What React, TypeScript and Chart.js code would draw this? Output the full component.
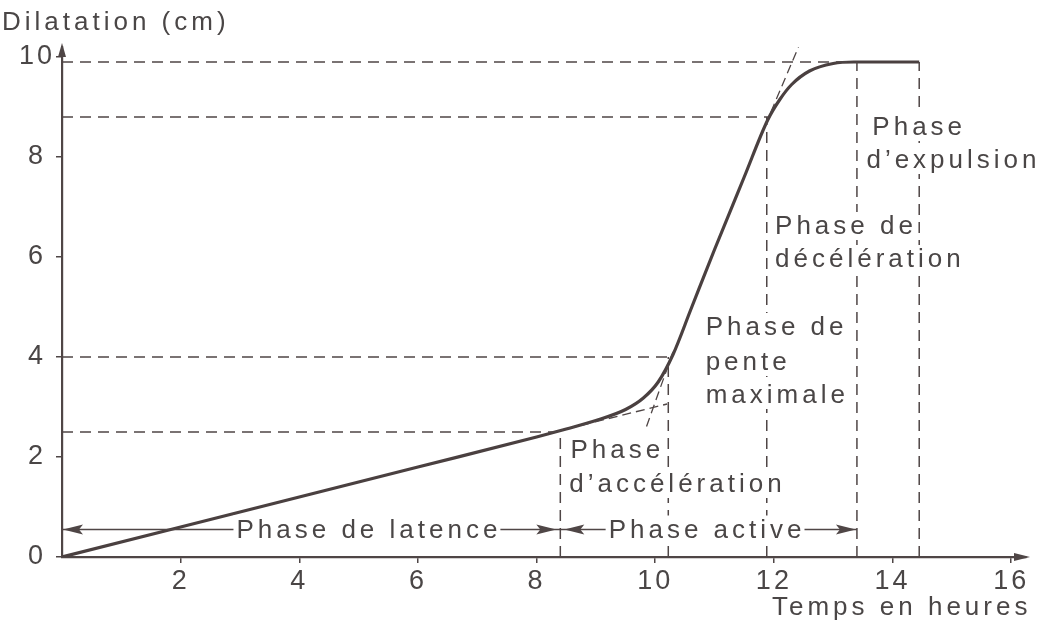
import React, { useEffect, useRef } from "react";
import { Chart, registerables } from "chart.js";
Chart.register(...registerables);

// Courbe de dilatation (heures, cm)
const curveHours = [0, 2, 4, 6, 8, 8.5, 9, 9.5, 9.8, 10.05, 10.3, 10.6, 11.0, 11.5, 11.9, 12.1, 12.3, 12.6, 13.0, 13.35, 14.45];
const curveDilatation = [0, 0.6, 1.2, 1.8, 2.4, 2.56, 2.73, 2.95, 3.18, 3.5, 4.05, 4.95, 6.15, 7.6, 8.75, 9.15, 9.45, 9.72, 9.87, 9.9, 9.9];

// Lignes de repère horizontales (niveau, fin en heures)
const guideLevels = [9.9, 8.8, 4.0, 2.5];
const guideLevelEnds = [13.35, 11.9, 10.25, 8.3];

// Lignes de repère verticales (heure, sommet en cm)
const guideHours = [8.4, 10.22, 11.88, 13.4, 14.45];
const guideTops = [2.5, 4.0, 8.8, 9.9, 9.9];

// Tangentes en pointillés [x1, y1, x2, y2]
const tangentLatence = [8.3, 2.5, 10.2, 3.06];
const tangentPenteBas = [10.3, 4.1, 9.85, 2.6];
const tangentPenteHaut = [11.95, 8.9, 12.45, 10.3];

// Flèches des phases
const arrowLevel = 0.55;
const latenceSpan = [0, 8.4];
const activeSpan = [8.4, 13.4];

const xTicks = [2, 4, 6, 8, 10, 12, 14, 16];
const yTicks = [0, 2, 4, 6, 8, 10];

const noteTexts = ["Phase", "d\u2019expulsion", "Phase de", "décélération", "Phase de", "pente", "maximale", "Phase", "d\u2019accélération"];
const noteHours = [13.66, 13.56, 12.02, 12.02, 10.85, 10.85, 10.85, 8.57, 8.55];
const noteLevels = [8.6, 7.94, 6.62, 5.96, 4.6, 3.9, 3.24, 2.14, 1.46];

const phaseTexts = ["Phase de latence", "Phase active"];
const phaseCenters = [5.14, 10.84];

const FONT = "'Liberation Sans', Arial, sans-serif";
const TEXT_COLOR = "#4a4646";
const LINE_COLOR = "#4f4646";

const seg = (a: number[]) => [{ x: a[0], y: a[1] }, { x: a[2], y: a[3] }];

const spacing = {
  id: "spacing",
  beforeDraw(chart: any) {
    (chart.ctx as any).letterSpacing = "3px";
  },
  afterDraw(chart: any) {
    (chart.ctx as any).letterSpacing = "0px";
  },
};

const overlay = {
  id: "overlay",
  afterDatasetsDraw(chart: any) {
    const { ctx } = chart;
    const xs = chart.scales.x;
    const ys = chart.scales.y;
    ctx.save();
    ctx.font = `26px ${FONT}`;
    (ctx as any).letterSpacing = "4px";
    ctx.textBaseline = "middle";

    const drawText = (t: string, px: number, py: number, align: "left" | "center") => {
      const w = ctx.measureText(t).width - 4;
      const left = align === "left" ? px : px - w / 2;
      ctx.fillStyle = "#ffffff";
      ctx.fillRect(left - 3, py - 14, w + 6, 28);
      ctx.fillStyle = TEXT_COLOR;
      ctx.textAlign = "left";
      ctx.fillText(t, left, py + 1);
    };

    noteTexts.forEach((t, i) => {
      drawText(t, xs.getPixelForValue(noteHours[i]), ys.getPixelForValue(noteLevels[i]), "left");
    });
    phaseTexts.forEach((t, i) => {
      drawText(t, xs.getPixelForValue(phaseCenters[i]), ys.getPixelForValue(arrowLevel), "center");
    });

    // arrowheads
    const head = (px: number, py: number, dir: number, len = 20, half = 5) => {
      ctx.beginPath();
      ctx.moveTo(px, py);
      ctx.lineTo(px - dir * len, py - half);
      ctx.lineTo(px - dir * len * 0.8, py);
      ctx.lineTo(px - dir * len, py + half);
      ctx.closePath();
      ctx.fillStyle = LINE_COLOR;
      ctx.fill();
    };
    const ay = ys.getPixelForValue(arrowLevel);
    head(xs.getPixelForValue(latenceSpan[0]) + 1, ay, -1);
    head(xs.getPixelForValue(latenceSpan[1]) - 4, ay, 1);
    head(xs.getPixelForValue(activeSpan[0]) + 4, ay, -1);
    head(xs.getPixelForValue(activeSpan[1]) - 1, ay, 1);

    // axis arrows
    const x0 = xs.left;
    const yTop = ys.top;
    ctx.beginPath();
    ctx.moveTo(x0, yTop - 4);
    ctx.lineTo(x0 - 4, yTop + 10);
    ctx.lineTo(x0 + 4, yTop + 10);
    ctx.closePath();
    ctx.fill();
    const xr = xs.right;
    const yb = ys.bottom;
    ctx.beginPath();
    ctx.moveTo(xr + 4, yb);
    ctx.lineTo(xr - 12, yb - 4);
    ctx.lineTo(xr - 12, yb + 4);
    ctx.closePath();
    ctx.fill();

    // titles
    ctx.fillStyle = TEXT_COLOR;
    ctx.textAlign = "left";
    ctx.fillText("Dilatation (cm)", 2, 23);
    ctx.fillText("Temps en heures", 772, 608);
    ctx.restore();
  },
};

export default function App() {
  const ref = useRef<HTMLCanvasElement>(null);
  useEffect(() => {
    if (!ref.current) return;
    const dashed = { borderColor: LINE_COLOR, borderWidth: 1.5, borderDash: [11, 7], pointRadius: 0, fill: false, tension: 0 };
    const datasets: any[] = [];
    guideLevels.forEach((lv, i) => {
      datasets.push({ ...dashed, data: [{ x: 0, y: lv }, { x: guideLevelEnds[i], y: lv }] });
    });
    guideHours.forEach((h, i) => {
      datasets.push({ ...dashed, data: [{ x: h, y: 0 }, { x: h, y: guideTops[i] }] });
    });
    [tangentLatence, tangentPenteBas, tangentPenteHaut].forEach((t) => {
      datasets.push({ ...dashed, borderWidth: 1.3, borderDash: [9, 5], data: seg(t) });
    });
    datasets.push({ borderColor: LINE_COLOR, borderWidth: 1.5, pointRadius: 0, data: [{ x: latenceSpan[0], y: arrowLevel }, { x: latenceSpan[1], y: arrowLevel }] });
    datasets.push({ borderColor: LINE_COLOR, borderWidth: 1.5, pointRadius: 0, data: [{ x: activeSpan[0], y: arrowLevel }, { x: activeSpan[1], y: arrowLevel }] });
    datasets.push({
      borderColor: "#4a4040",
      borderWidth: 3.2,
      pointRadius: 0,
      cubicInterpolationMode: "monotone",
      data: curveHours.map((x, i) => ({ x, y: curveDilatation[i] })),
    });

    const tickFont = { family: FONT, size: 27 };
    const chart = new Chart(ref.current, {
      type: "line",
      data: { datasets },
      plugins: [spacing, overlay],
      options: {
        animation: false,
        responsive: false,
        maintainAspectRatio: false,
        layout: { padding: { left: 0, right: 31, top: 47, bottom: 0 } },
        plugins: { legend: { display: false }, tooltip: { enabled: false } },
        scales: {
          x: {
            type: "linear",
            min: 0,
            max: 16.25,
            afterBuildTicks: (s: any) => { s.ticks = xTicks.map((v) => ({ value: v })); },
            afterFit: (s: any) => { s.height = 78; },
            grid: { drawOnChartArea: false, drawTicks: true, tickLength: 6, color: LINE_COLOR, lineWidth: 1.5 },
            border: { display: true, color: LINE_COLOR, width: 2.2 },
            ticks: { color: TEXT_COLOR, font: tickFont, padding: 2, maxRotation: 0, autoSkip: false },
          },
          y: {
            type: "linear",
            min: 0,
            max: 10.2,
            afterBuildTicks: (s: any) => { s.ticks = yTicks.map((v) => ({ value: v })); },
            afterFit: (s: any) => { s.width = 62; },
            grid: { drawOnChartArea: false, drawTicks: true, tickLength: 6, color: LINE_COLOR, lineWidth: 1.5 },
            border: { display: true, color: LINE_COLOR, width: 2.2 },
            ticks: { color: TEXT_COLOR, font: tickFont, padding: 4, crossAlign: "center", autoSkip: false },
          },
        },
      } as any,
    });
    return () => chart.destroy();
  }, []);
  return (
    <div style={{ position: "absolute", left: 0, top: 0, width: 1057, height: 635, background: "#fff" }}>
      <canvas ref={ref} width={1057} height={635} />
    </div>
  );
}
